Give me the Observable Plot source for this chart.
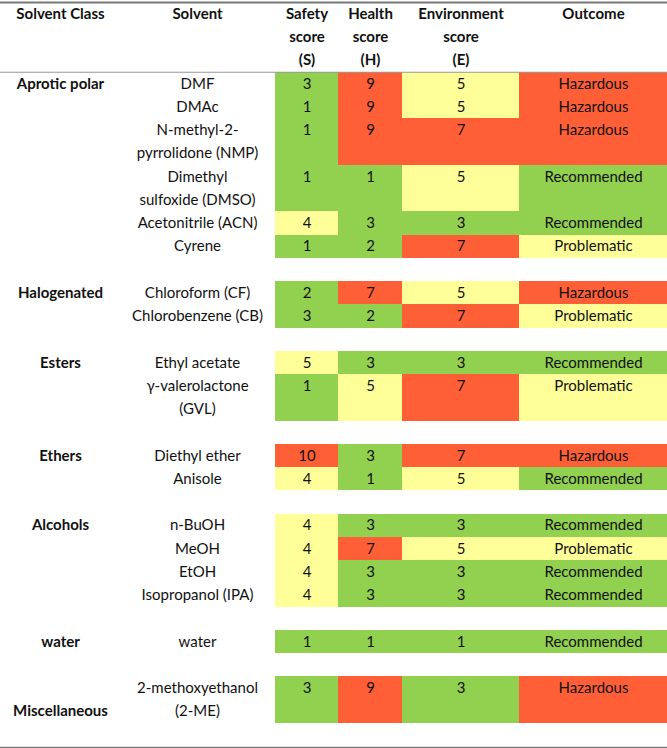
<!DOCTYPE html>
<html>
<head>
<meta charset="utf-8">
<script src="https://cdn.jsdelivr.net/npm/d3@7"></script>
<script src="https://cdn.jsdelivr.net/npm/@observablehq/plot@0.6"></script>
<style>
  html, body { margin: 0; padding: 0; background: #fff; }
  #chart svg { display: block; }
</style>
</head>
<body>
<div id="chart"></div>
<script>
// ---- data ----
const classNames = ["Aprotic polar", "Halogenated", "Esters", "Ethers", "Alcohols", "water", "Miscellaneous"];
const classLabelLine = [0, 0, 0, 0, 0, 0, 1];
const solventLines = [
  ["DMF"], ["DMAc"], ["N-methyl-2-", "pyrrolidone (NMP)"], ["Dimethyl", "sulfoxide (DMSO)"],
  ["Acetonitrile (ACN)"], ["Cyrene"],
  ["Chloroform (CF)"], ["Chlorobenzene (CB)"],
  ["Ethyl acetate"], ["γ-valerolactone", "(GVL)"],
  ["Diethyl ether"], ["Anisole"],
  ["n-BuOH"], ["MeOH"], ["EtOH"], ["Isopropanol (IPA)"],
  ["water"],
  ["2-methoxyethanol", "(2-ME)"]
];
const solventClass = [0,0,0,0,0,0, 1,1, 2,2, 3,3, 4,4,4,4, 5, 6];
const safetyScore  = [3,1,1,1,4,1, 2,3, 5,1, 10,4, 4,4,4,4, 1, 3];
const healthScore  = [9,9,9,1,3,2, 7,2, 3,5, 3,1, 3,7,3,3, 1, 9];
const envScore     = [5,5,7,5,3,7, 5,7, 3,7, 7,5, 3,5,3,3, 1, 3];
const outcome = ["Hazardous","Hazardous","Hazardous","Recommended","Recommended","Problematic",
  "Hazardous","Problematic","Recommended","Problematic","Hazardous","Recommended",
  "Recommended","Problematic","Recommended","Recommended","Recommended","Hazardous"];
const headerLabels = [
  ["Solvent Class"], ["Solvent"], ["Safety", "score", "(S)"], ["Health", "score", "(H)"],
  ["Environment", "score", "(E)"], ["Outcome"]
];

// ---- layout / style ----
const GREEN = "#92D050", YELLOW = "#FFFF99", RED = "#FF5F37";
const scoreColor = v => v >= 7 ? RED : v >= 4 ? YELLOW : GREEN;
const outcomeColor = {Hazardous: RED, Problematic: YELLOW, Recommended: GREEN};
const colEdges = [[0, 120], [120, 275], [275, 338], [338, 402], [402, 519], [519, 667]];
const colCenter = [60, 197, 306.5, 370, 460.5, 593];

// compute line positions of rows
const rowStart = [];
let cursor = 0;
solventLines.forEach((lines, i) => {
  if (i > 0 && solventClass[i] !== solventClass[i - 1]) cursor += 1;
  rowStart.push(cursor);
  cursor += lines.length;
});
const totalLines = cursor + 1;

const rows = solventLines.map((lines, i) => ({
  i, start: rowStart[i], n: lines.length, cls: solventClass[i],
  S: safetyScore[i], H: healthScore[i], E: envScore[i], O: outcome[i]
}));

const cells = [];
rows.forEach(r => {
  [[2, r.S, scoreColor(r.S)], [3, r.H, scoreColor(r.H)], [4, r.E, scoreColor(r.E)], [5, r.O, outcomeColor[r.O]]]
    .forEach(([c, v, fill]) => cells.push({c, v, fill, y1: r.start, y2: r.start + r.n}));
});

const solventText = rows.flatMap(r => solventLines[r.i].map((t, k) => ({t, y: r.start + k + 0.5})));
const classText = classNames.map((name, c) => {
  const first = rows.find(r => r.cls === c);
  return {t: name, y: first.start + classLabelLine[c] + 0.5};
});
const headerText = headerLabels.flatMap((lines, c) => lines.map((t, k) => ({t, c, y: -3 + k + 0.5})));

const font = "Lato, 'Open Sans', sans-serif";

const chart = Plot.plot({
  width: 667,
  height: 748,
  margin: 0,
  x: {domain: [0, 667], range: [0, 667], axis: null},
  y: {domain: [-3, totalLines], range: [2, 746], axis: null},
  style: {fontFamily: font, background: "#fff", color: "#111"},
  marks: [
    Plot.rect(cells, {
      x1: d => colEdges[d.c][0], x2: d => colEdges[d.c][1],
      y1: "y1", y2: "y2", fill: "fill", shapeRendering: "crispEdges"
    }),
    Plot.ruleY([-3], {stroke: "#777", strokeWidth: 2}),
    Plot.ruleY([0], {stroke: "#999", strokeWidth: 1.2}),
    Plot.ruleY([totalLines], {stroke: "#777", strokeWidth: 2.5, dy: 1.5}),
    Plot.text(headerText, {
      x: d => colCenter[d.c], y: "y", text: "t",
      fontWeight: "bold", fontSize: 15, fill: "#111", fontFamily: font
    }),
    Plot.text(classText, {
      x: colCenter[0], y: "y", text: "t",
      fontWeight: "bold", fontSize: 15, fill: "#111", fontFamily: font
    }),
    Plot.text(solventText, {
      x: colCenter[1], y: "y", text: "t", fontSize: 15, fill: "#111", fontFamily: font
    }),
    Plot.text(cells, {
      x: d => colCenter[d.c], y: d => d.y1 + 0.5, text: d => String(d.v),
      fontSize: 15, fill: "#111", fontFamily: font
    })
  ]
});

document.getElementById("chart").append(chart);
</script>
</body>
</html>
